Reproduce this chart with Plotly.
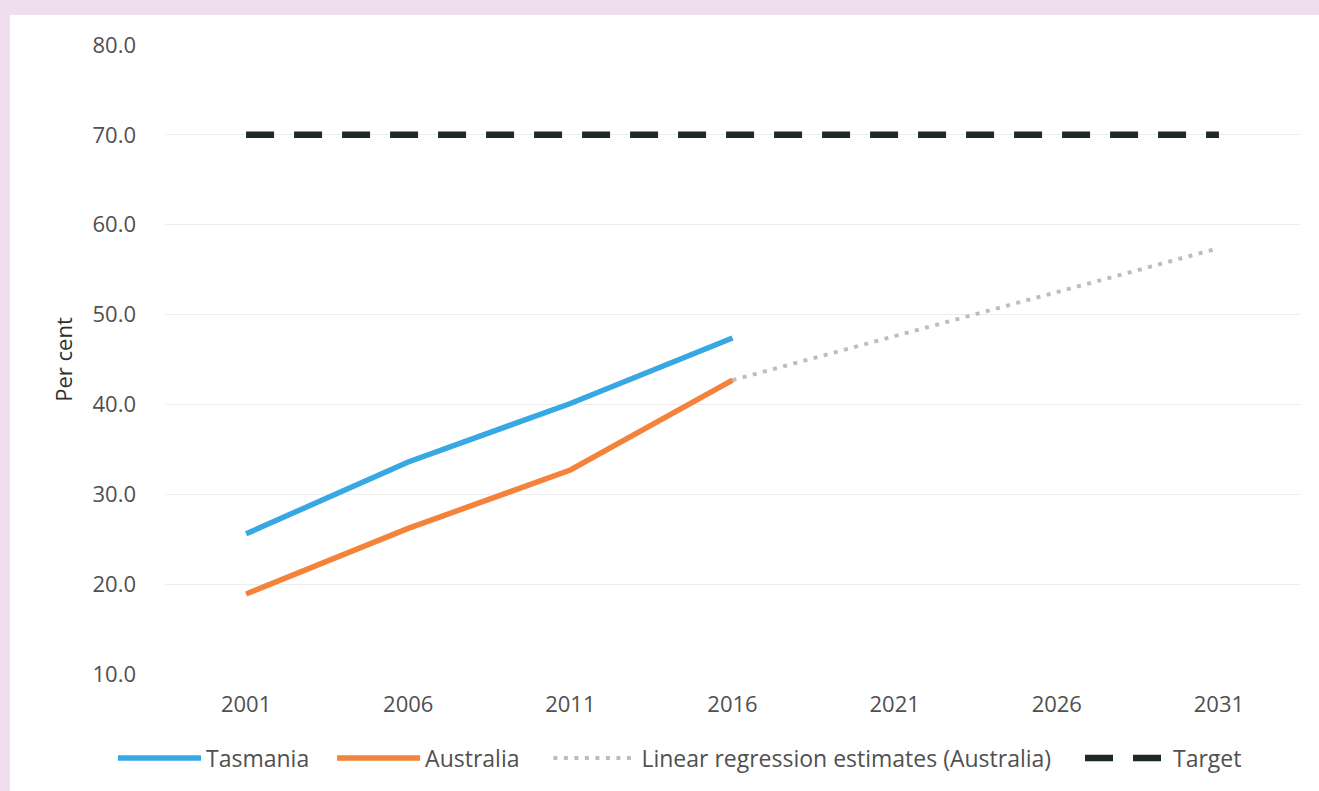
import plotly.graph_objects as go

years = ["2001", "2006", "2011", "2016", "2021", "2026", "2031"]
tasmania = [25.6, 33.6, 40.1, 47.4]
australia = [18.9, 26.2, 32.7, 42.7]
regression_years = ["2016", "2021", "2026", "2031"]
regression = [42.7, 47.6, 52.5, 57.4]
target = [70, 70, 70, 70, 70, 70, 70]
y_ticks = [10, 20, 30, 40, 50, 60, 70, 80]

W, H = 1319, 791
ML, MR, MT, MB = 165, 19, 45, 117
FONT = "Open Sans"
TXT = "#505050"
PINK = "#EFDDF0"
NB = "\u00a0"

fig = go.Figure()
fig.add_trace(go.Scatter(x=years[:4], y=tasmania, mode="lines", name="Tasmania" + NB * 3,
                         line=dict(color="#38A8E4", width=5.5)))
fig.add_trace(go.Scatter(x=years[:4], y=australia, mode="lines", name="Australia" + NB * 4,
                         line=dict(color="#F5823A", width=5.5)))
fig.add_trace(go.Scatter(x=regression_years, y=regression, mode="lines",
                         name="Linear regression estimates (Australia)" + NB * 4,
                         line=dict(color="#BDBDBD", width=4, dash="4px,6.5px")))
fig.add_trace(go.Scatter(x=years, y=target, mode="lines", name="Target",
                         line=dict(color="#1E2826", width=6.5, dash="28px,20px")))

pw = W - ML - MR
ph = H - MT - MB
# white panel over the pink scan border
fig.add_shape(type="rect", xref="paper", yref="paper", layer="below",
              x0=(10 - ML) / pw, x1=(W - ML) / pw + 0.02,
              y0=-(MB + 5) / ph, y1=(MT - 15) / ph + 1,
              fillcolor="white", line=dict(width=0))

fig.update_layout(
    width=W, height=H,
    margin=dict(l=ML, r=MR, t=MT, b=MB, autoexpand=False),
    paper_bgcolor=PINK,
    plot_bgcolor="rgba(0,0,0,0)",
    font=dict(family=FONT, size=22, color=TXT),
    showlegend=True,
    legend=dict(orientation="h", x=(113 - ML) / pw, xanchor="left",
                y=-(758 - MT - ph) / ph, yanchor="middle",
                font=dict(size=23, color=TXT), itemwidth=83, bgcolor="rgba(0,0,0,0)"),
    xaxis=dict(type="category", categoryorder="array", categoryarray=years,
               range=[-0.5, 6.5], showgrid=False, showline=False, ticks="",
               tickfont=dict(size=22, color=TXT), ticklabelstandoff=15),
    yaxis=dict(range=[10, 80], tickvals=y_ticks, tickformat=".1f",
               showgrid=True, gridcolor="#EDEDED", gridwidth=1, zeroline=False,
               showline=False, ticks="", tickfont=dict(size=22, color=TXT),
               ticklabelstandoff=28,
               title=dict(text="Per cent", font=dict(size=22, color="#303030"), standoff=13)),
)

fig.write_html("out.html", config={"displayModeBar": False},
               post_script="document.body.style.margin='0px';"
                           "document.body.style.background='" + PINK + "';")
